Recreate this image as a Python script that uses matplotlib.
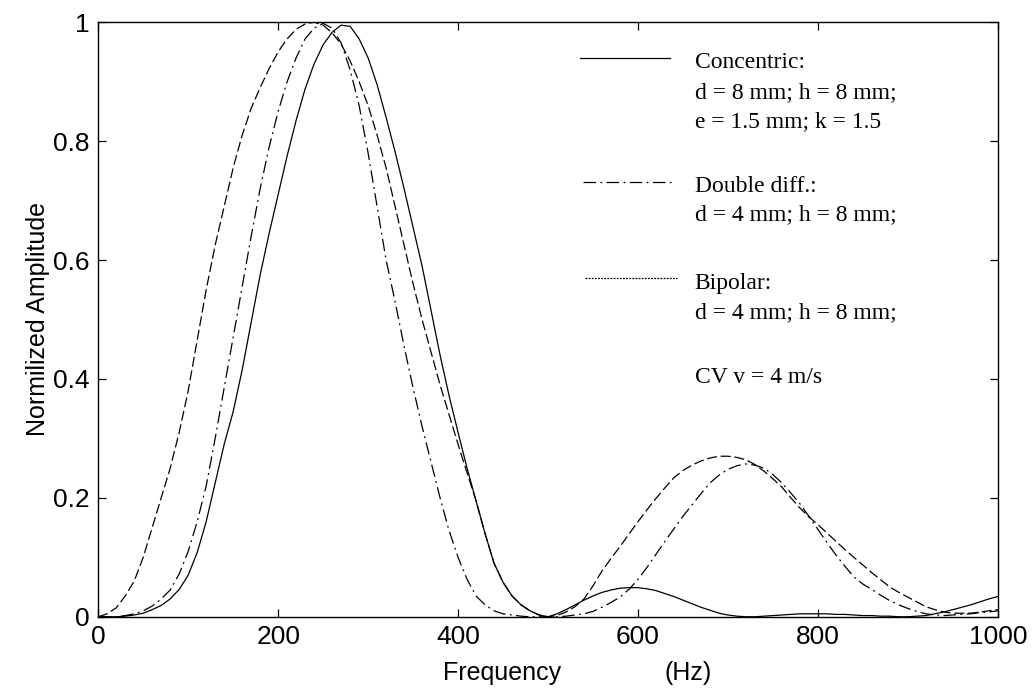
import matplotlib.pyplot as plt
from matplotlib.lines import Line2D

# 周波数軸 [Hz]（10Hzごと）
freq = list(range(0, 1001, 10))

# Concentric（実線）
concentric = [
    0.0, 0.0, 0.0, 0.001, 0.003, 0.006, 0.012, 0.019, 0.03, 0.046,
    0.07, 0.108, 0.16, 0.225, 0.29, 0.345, 0.415, 0.495, 0.575, 0.645,
    0.71, 0.775, 0.835, 0.888, 0.93, 0.962, 0.983, 0.995, 0.993, 0.972,
    0.94, 0.895, 0.84, 0.782, 0.72, 0.655, 0.59, 0.515, 0.44, 0.372,
    0.31, 0.25, 0.195, 0.14, 0.09, 0.058, 0.035, 0.02, 0.01, 0.003,
    0.0, 0.005, 0.012, 0.02, 0.028, 0.035, 0.041, 0.045, 0.048, 0.049,
    0.049, 0.047, 0.044, 0.039, 0.034, 0.028, 0.022, 0.016, 0.011, 0.006,
    0.003, 0.001, 0.0, 0.0, 0.001, 0.002, 0.003, 0.004, 0.005, 0.005,
    0.005, 0.005, 0.004, 0.004, 0.003, 0.002, 0.002, 0.001, 0.001, 0.0,
    0.0, 0.001, 0.002, 0.005, 0.008, 0.012, 0.016, 0.02, 0.025, 0.03,
    0.034]

# Double diff.（一点鎖線）
double_diff = [
    0.0, 0.0, 0.0, 0.002, 0.005, 0.01, 0.018, 0.03, 0.045, 0.072,
    0.11, 0.16, 0.22, 0.3, 0.385, 0.47, 0.555, 0.64, 0.72, 0.79,
    0.85, 0.9, 0.94, 0.972, 0.99, 0.998, 0.99, 0.965, 0.92, 0.86,
    0.78, 0.69, 0.6, 0.53, 0.455, 0.385, 0.32, 0.26, 0.2, 0.145,
    0.1, 0.063, 0.035, 0.02, 0.01, 0.005, 0.003, 0.001, 0.0, 0.0,
    0.0, 0.0, 0.001, 0.003, 0.005, 0.009, 0.016, 0.024, 0.033, 0.046,
    0.063, 0.083, 0.105, 0.127, 0.148, 0.169, 0.188, 0.207, 0.225, 0.238,
    0.248, 0.254, 0.257, 0.255, 0.25, 0.239, 0.225, 0.208, 0.19, 0.169,
    0.147, 0.125, 0.104, 0.085, 0.067, 0.055, 0.046, 0.036, 0.027, 0.02,
    0.014, 0.009, 0.005, 0.003, 0.002, 0.003, 0.004, 0.005, 0.007, 0.008,
    0.01]

# Bipolar（破線）
bipolar = [
    0.0, 0.005, 0.015, 0.035, 0.06, 0.1, 0.15, 0.2, 0.25, 0.31,
    0.38, 0.465, 0.55, 0.625, 0.69, 0.755, 0.81, 0.855, 0.89, 0.922,
    0.95, 0.972, 0.988, 0.997, 1.0, 0.995, 0.982, 0.963, 0.935, 0.9,
    0.86, 0.81, 0.755, 0.69, 0.625, 0.56, 0.5, 0.445, 0.39, 0.34,
    0.29, 0.242, 0.195, 0.14, 0.09, 0.058, 0.035, 0.02, 0.01, 0.003,
    0.0, 0.002, 0.008, 0.017, 0.03, 0.052, 0.077, 0.098, 0.118, 0.139,
    0.16, 0.18, 0.199, 0.217, 0.234, 0.246, 0.255, 0.262, 0.267, 0.27,
    0.27, 0.268, 0.264, 0.256, 0.245, 0.232, 0.218, 0.2, 0.183, 0.168,
    0.155, 0.141, 0.127, 0.113, 0.1, 0.087, 0.074, 0.062, 0.05, 0.041,
    0.033, 0.025, 0.017, 0.012, 0.008, 0.006, 0.006, 0.006, 0.008, 0.01,
    0.012]

xticks = [0, 200, 400, 600, 800, 1000]
yticks = [0, 0.2, 0.4, 0.6, 0.8, 1.0]
ytick_labels = ["0", "0.2", "0.4", "0.6", "0.8", "1"]

legend_text = [
    ("Concentric:", 0.933), ("d = 8 mm; h = 8 mm;", 0.882), ("e = 1.5 mm; k = 1.5", 0.832),
    ("Double diff.:", 0.724), ("d = 4 mm; h = 8 mm;", 0.676),
    ("Bipolar:", 0.561), ("d = 4 mm; h = 8 mm;", 0.511),
    ("CV v = 4 m/s", 0.402),
]

fig = plt.figure(figsize=(10.34, 6.93), dpi=100)
ax = fig.add_axes([0.095, 0.110, 0.870, 0.858])

ax.plot(freq, concentric, color="black", linewidth=0.9, linestyle="-")
ax.plot(freq, double_diff, color="black", linewidth=0.9, dashes=(10, 3.5, 1.5, 3.5))
ax.plot(freq, bipolar, color="black", linewidth=0.9, dashes=(8, 3))

ax.set_xlim(0, 1000)
ax.set_ylim(0, 1)
ax.set_xticks(xticks)
ax.set_yticks(yticks)
ax.set_yticklabels(ytick_labels)
ax.tick_params(direction="in", length=6, width=0.9, top=True, right=True,
               labelsize=19, pad=6)
for label in ax.get_xticklabels() + ax.get_yticklabels():
    label.set_fontfamily("Liberation Sans")
for spine in ax.spines.values():
    spine.set_linewidth(1.0)

ax.set_ylabel("Normilized Amplitude", fontsize=18, family="Liberation Sans", labelpad=2)
ax.text(0.449, -0.075, "Frequency", transform=ax.transAxes, ha="center", va="top",
        fontsize=18, family="Liberation Sans")
ax.text(0.656, -0.075, "(Hz)", transform=ax.transAxes, ha="center", va="top",
        fontsize=18, family="Liberation Sans")

# 凡例（手描き）
ax.add_line(Line2D([0.536, 0.636], [0.940, 0.940], transform=ax.transAxes,
                   color="black", linewidth=0.9))
ax.add_line(Line2D([0.539, 0.641], [0.731, 0.731], transform=ax.transAxes,
                   color="black", linewidth=0.9, dashes=(10, 3.5, 1.5, 3.5)))
ax.add_line(Line2D([0.541, 0.643], [0.570, 0.570], transform=ax.transAxes,
                   color="black", linewidth=0.9, dashes=(1.5, 1)))
for txt, y in legend_text:
    ax.text(0.663, y, txt, transform=ax.transAxes, ha="left", va="center",
            fontsize=17, family="Liberation Serif")

plt.savefig("out.png", dpi=100)
plt.close()
